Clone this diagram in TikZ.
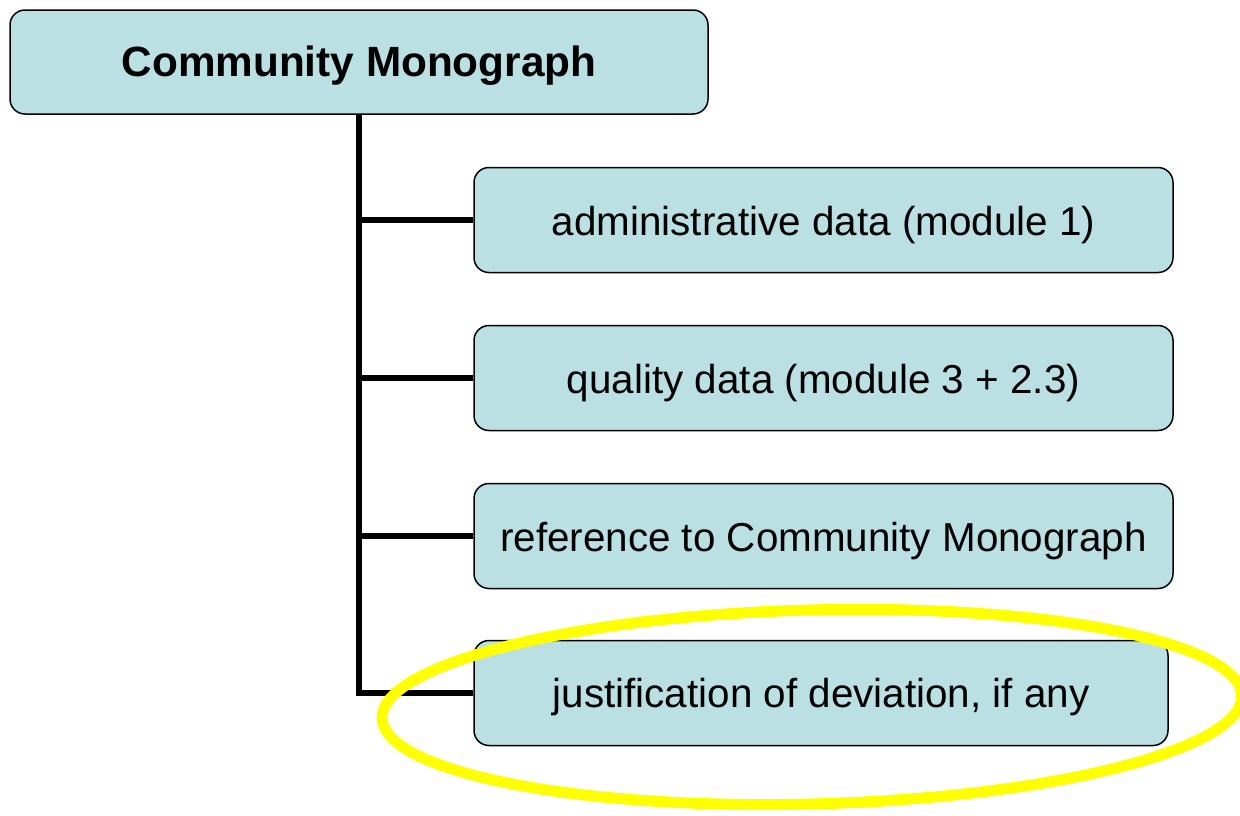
\documentclass[tikz,border=0pt]{standalone}
\usepackage{fontspec}
\setmainfont{Liberation Sans}
\definecolor{boxfill}{HTML}{BAE0E3}
\definecolor{hilite}{HTML}{FFFF00}
\begin{document}
\begin{tikzpicture}[x=1pt,y=-1pt,
  box/.style={draw=black, line width=1.5pt, fill=boxfill, rounded corners=15pt,
    minimum width=699pt, minimum height=105pt, inner sep=0pt, align=center,
    text height=30pt, text depth=0pt,
    font=\fontsize{40.4}{48}\selectfont},
  topbox/.style={box, minimum width=698pt, minimum height=104pt,
    text height=29pt, font=\fontsize{42.3}{48}\selectfont\bfseries},
  link/.style={line width=6pt, line cap=butt}
]
\useasboundingbox (0,0) rectangle (1240,815);
\node[topbox] (top) at (359,62) {Community Monograph};
\node[box] (b1) at (823.5,220) {administrative data (module 1)};
\node[box] (b2) at (823.5,378) {quality data (module 3 + 2.3)};
\node[box] (b3) at (823.5,536) {reference to Community Monograph};
\node[box, minimum width=694pt, text height=28pt] (b4) at (821,693) {justification of deviation, if any};
\draw[link] (top.south) |- (b4.west);
\draw[link] (top.south |- b1.west) -- (b1.west);
\draw[link] (top.south |- b2.west) -- (b2.west);
\draw[link] (top.south |- b3.west) -- (b3.west);
\coordinate (ec) at (812,707);
\draw[hilite, line width=11pt, rotate around={1.5:(ec)}] (ec) ellipse [x radius=430, y radius=97];
\end{tikzpicture}
\end{document}
